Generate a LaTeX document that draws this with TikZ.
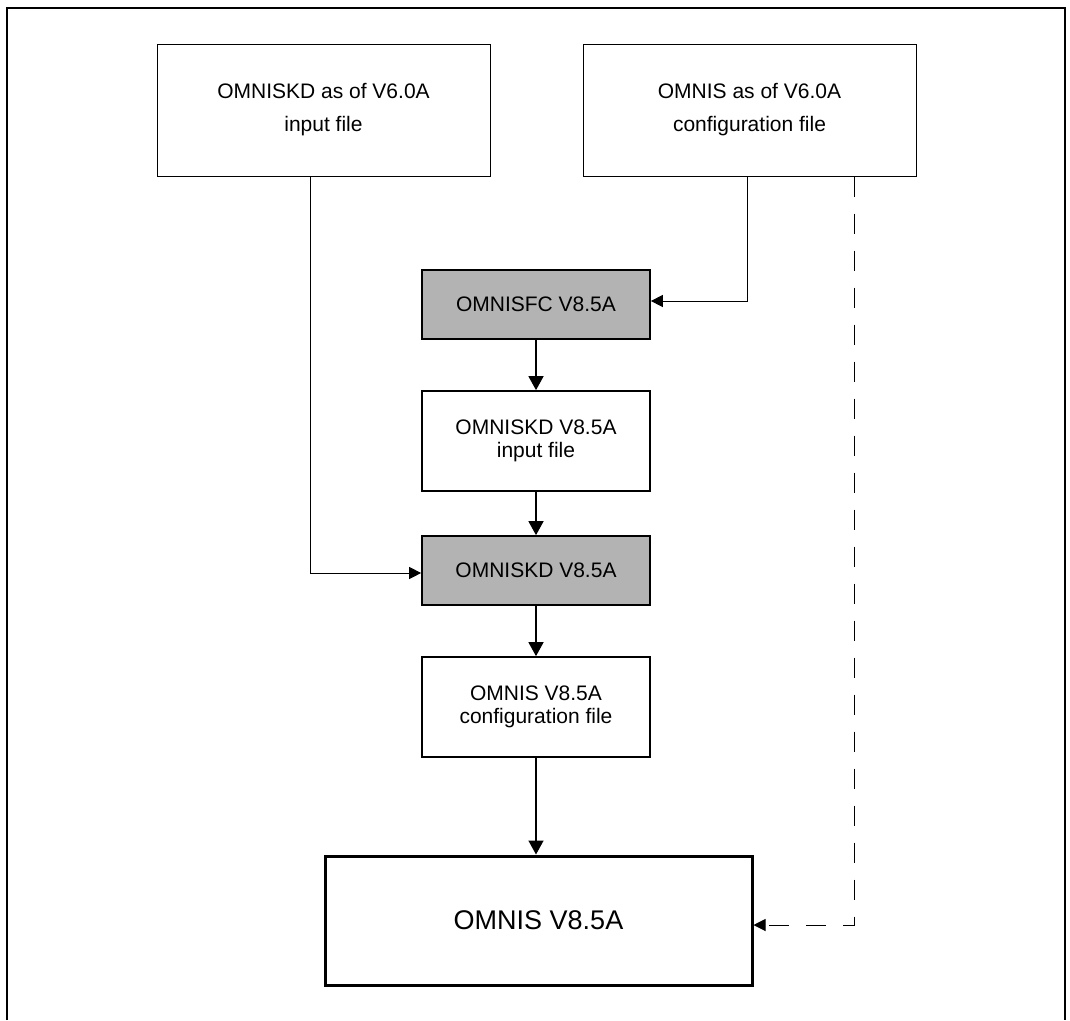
\documentclass[tikz,border=0pt]{standalone}
\usepackage{fontspec}
\setmainfont{Liberation Sans}
\usetikzlibrary{arrows.meta}
\definecolor{boxgray}{RGB}{179,179,179}
\begin{document}
\begin{tikzpicture}[x=1pt,y=-1pt,
  topbox/.style={draw, line width=1pt, minimum width=333pt, minimum height=132pt, inner sep=0pt, align=center, font=\fontsize{21}{33}\selectfont},
  midbox/.style={draw, line width=1.7pt, minimum width=228pt, inner sep=0pt, align=center, font=\fontsize{21}{23}\selectfont},
  grayfill/.style={fill=boxgray},
  bigbox/.style={draw, line width=3pt, minimum width=427pt, minimum height=129pt, inner sep=0pt, font=\fontsize{27}{27}\selectfont},
  flow/.style={line width=1.5pt, -{Triangle[length=14pt,width=15pt]}},
  feed/.style={line width=1pt, -{Triangle[length=12pt,width=12pt]}},
  dashfeed/.style={feed, dash pattern=on 20pt off 17pt},
  frame/.style={line width=2.3pt}
]
\useasboundingbox (0,0) rectangle (1070,1020);
\draw[frame] (7,1020) -- (7,8) -- (1065,8) -- (1065,1020);

\node[topbox] (b1) at (323.5,110) {OMNISKD as of V6.0A\\input file};
\node[topbox] (b2) at (749.5,110) {OMNIS as of V6.0A\\configuration file};

\node[midbox, grayfill, minimum height=69pt] (fc) at (536,304.5) {OMNISFC V8.5A};
\node[midbox, minimum height=100pt] (in) at (536,441) {OMNISKD V8.5A\\input file};
\node[midbox, grayfill, minimum height=69pt] (kd) at (536,570.5) {OMNISKD V8.5A};
\node[midbox, minimum height=100pt] (cf) at (536,707) {OMNIS V8.5A\\configuration file};
\node[bigbox] (big) at (538.5,920.5) {OMNIS V8.5A};

\draw[flow] (fc.south) -- (in.north);
\draw[flow] (in.south) -- (kd.north);
\draw[flow] (kd.south) -- (cf.north);
\draw[flow] (cf.south) -- (cf.south |- big.north);

\draw[feed] ([xshift=-13.5pt]b1.south) |- ([yshift=-2.5pt]kd.west);
\draw[feed] ([xshift=-2.5pt]b2.south) |- ([yshift=3.5pt]fc.east);
\draw[dashfeed] ([xshift=104.5pt]b2.south) |- ([yshift=-4.5pt]big.east);
\end{tikzpicture}
\end{document}
